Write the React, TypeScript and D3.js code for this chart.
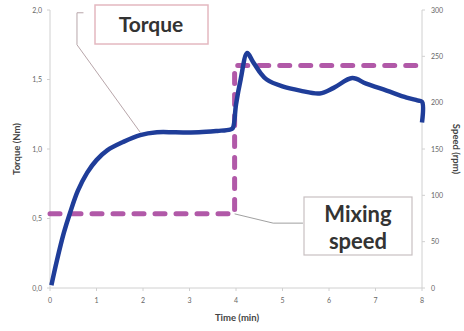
import React from "react";
import * as d3 from "d3";

const timeMin = [0.03, 0.15, 0.3, 0.43, 0.6, 0.8, 1.0, 1.23, 1.57, 1.94, 2.3, 2.7, 3.2, 3.6, 3.87, 3.93, 4.0, 4.1, 4.24, 4.36, 4.52, 4.66, 5.0, 5.38, 5.8, 6.1, 6.5, 6.8, 7.24, 7.67, 7.9, 8.0, 8.0];
const torqueNm = [0.02, 0.2, 0.4, 0.54, 0.7, 0.83, 0.92, 0.99, 1.05, 1.1, 1.12, 1.12, 1.12, 1.13, 1.14, 1.15, 1.32, 1.5, 1.69, 1.63, 1.55, 1.5, 1.45, 1.42, 1.4, 1.44, 1.51, 1.47, 1.42, 1.37, 1.35, 1.34, 1.19];

const speedTime = [0, 3.97, 3.97, 8];
const speedRpm = [80, 80, 240, 240];

const xTicks = [0, 1, 2, 3, 4, 5, 6, 7, 8];
const yLeftTicks = [0, 0.5, 1.0, 1.5, 2.0];
const yRightTicks = [0, 50, 100, 150, 200, 250, 300];

const W = 464, H = 331;
const left = 50, right = 422, top = 10, bottom = 288;

export default function App() {
  const x = d3.scaleLinear().domain([0, 8]).range([left, right]);
  const yL = d3.scaleLinear().domain([0, 2]).range([bottom, top]);
  const yR = d3.scaleLinear().domain([0, 300]).range([bottom, top]);

  const torqueLine = d3.line<number>()
    .x((_, i) => x(timeMin[i]))
    .y((d) => yL(d))
    .curve(d3.curveCatmullRom.alpha(0.5))(torqueNm) as string;

  const speedLine = d3.line<number>()
    .x((_, i) => x(speedTime[i]))
    .y((d) => yR(d))(speedRpm) as string;

  const fmt = (v: number) => v.toFixed(1).replace(".", ",");
  const font = "Lato, 'Open Sans', sans-serif";

  const tLeader = d3.line()([
    [x(0.72), yL(1.98)],
    [x(0.58), yL(1.98)],
    [x(0.58), yL(1.75)],
    [x(1.94), yL(1.12)],
  ]) as string;
  const sLeader = d3.line()([
    [x(3.97), yR(80)],
    [x(4.8), yR(70)],
    [x(5.44), yR(70)],
  ]) as string;

  return (
    <svg width={W} height={H} style={{ position: "absolute", left: 0, top: 0, background: "#fff" }} fontFamily={font}>
      <line x1={left} x2={left} y1={top} y2={bottom} stroke="#d0d0d0" />
      <line x1={right} x2={right} y1={top} y2={bottom} stroke="#d0d0d0" />
      <line x1={left} x2={right} y1={bottom} y2={bottom} stroke="#d0d0d0" />
      {yLeftTicks.map((v) => (
        <g key={"l" + v}>
          <line x1={left - 3} x2={left} y1={yL(v)} y2={yL(v)} stroke="#d0d0d0" />
          <text x={left - 8} y={yL(v) + 2.5} fontSize={7} fill="#666" textAnchor="end">{fmt(v)}</text>
        </g>
      ))}
      {yRightTicks.map((v) => (
        <g key={"r" + v}>
          <line x1={right} x2={right + 3} y1={yR(v)} y2={yR(v)} stroke="#d0d0d0" />
          <text x={right + 9} y={yR(v) + 2.5} fontSize={7} fill="#666" textAnchor="start">{v}</text>
        </g>
      ))}
      {xTicks.map((v) => (
        <g key={"x" + v}>
          <line x1={x(v)} x2={x(v)} y1={bottom} y2={bottom + 3} stroke="#d0d0d0" />
          <text x={x(v)} y={bottom + 15} fontSize={7} fill="#666" textAnchor="middle">{v}</text>
        </g>
      ))}
      <text x={237} y={321} fontSize={9.5} fontWeight="bold" fill="#444" textAnchor="middle">Time (min)</text>
      <text transform={`translate(20,${(top + bottom) / 2}) rotate(-90)`} fontSize={9.5} fontWeight="bold" fill="#444" textAnchor="middle">Torque (Nm)</text>
      <text transform={`translate(453,${(top + bottom) / 2}) rotate(90)`} fontSize={9.5} fontWeight="bold" fill="#444" textAnchor="middle">Speed (rpm)</text>

      <path d={tLeader} fill="none" stroke="#b8a6aa" strokeWidth={1} />
      <path d={sLeader} fill="none" stroke="#888" strokeWidth={0.8} />

      <path d={speedLine} fill="none" stroke="#a9479e" strokeWidth={5} strokeDasharray="10 11" strokeLinecap="round" strokeOpacity={0.9} />
      <path d={torqueLine} fill="none" stroke="#1f3d99" strokeWidth={4.5} strokeLinejoin="round" />

      <rect x={95} y={5} width={113} height={39} fill="#fff" stroke="#e4b8c0" strokeWidth={1.5} />
      <text x={151} y={32} fontSize={21} fontWeight="bold" fill="#333" textAnchor="middle">Torque</text>
      <rect x={304} y={197} width={108} height={58} fill="#fff" stroke="#c8c0c2" strokeWidth={1.2} />
      <text x={358} y={222} fontSize={22} fontWeight="bold" fill="#333" textAnchor="middle">Mixing</text>
      <text x={358} y={249} fontSize={22} fontWeight="bold" fill="#333" textAnchor="middle">speed</text>
    </svg>
  );
}
